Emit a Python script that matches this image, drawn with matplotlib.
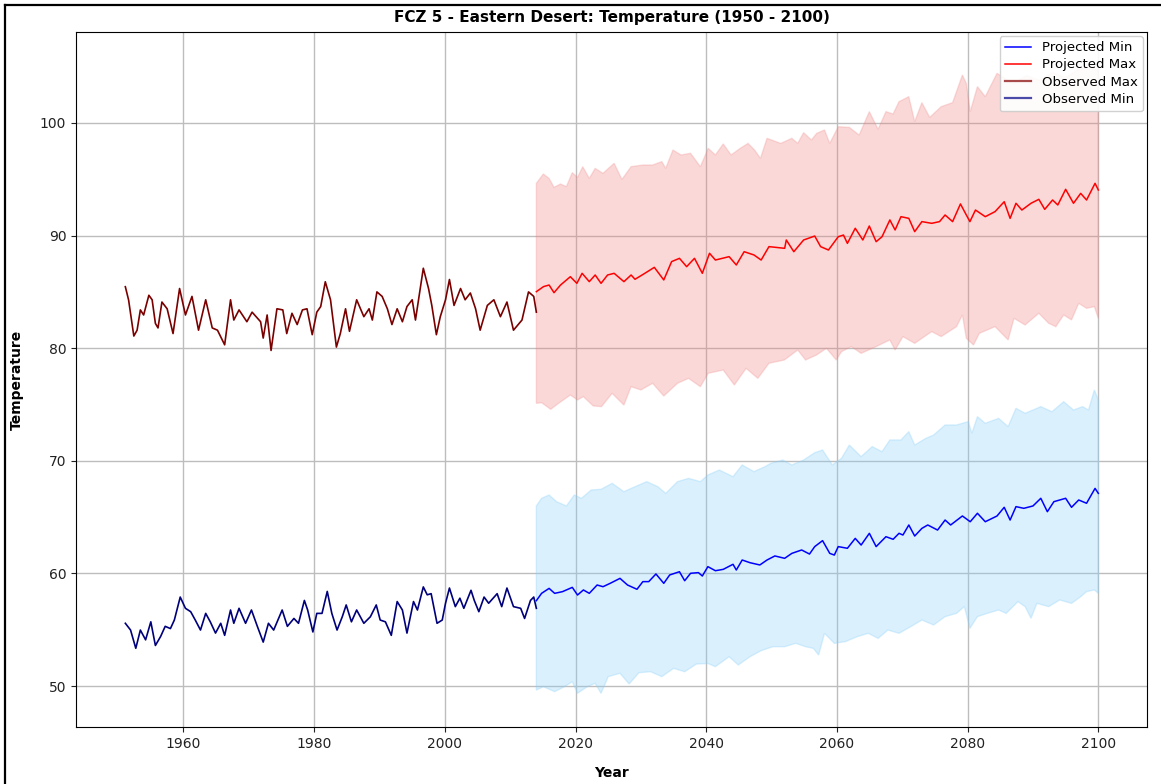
import numpy as np
import matplotlib
matplotlib.use("Agg")
import matplotlib.pyplot as plt
from matplotlib.lines import Line2D

# ---------------- data ----------------
obs_max_years = [1951.1, 1951.6, 1952.4, 1952.9, 1953.4, 1953.9, 1954.7, 1955.2, 1955.7, 1956.1,
                 1956.7, 1957.5, 1958.4, 1959.4, 1960.3, 1961.3, 1962.3, 1963.4, 1964.4, 1965.2,
                 1966.3, 1967.2, 1967.7, 1968.5, 1969.7, 1970.5, 1971.8, 1972.2, 1972.8, 1973.4,
                 1974.3, 1975.2, 1975.8, 1976.6, 1977.4, 1978.2, 1978.9, 1979.7, 1980.4, 1981.0,
                 1981.7, 1982.5, 1983.4, 1984.0, 1984.8, 1985.4, 1986.5, 1987.6, 1988.4, 1988.9,
                 1989.6, 1990.4, 1991.2, 1991.9, 1992.7, 1993.5, 1994.2, 1995.0, 1995.5, 1996.7,
                 1997.5, 1998.0, 1998.7, 1999.3, 2000.1, 2000.7, 2001.4, 2002.4, 2003.1, 2003.9,
                 2004.7, 2005.4, 2006.5, 2007.5, 2008.5, 2009.5, 2010.5, 2011.8, 2012.8, 2013.6,
                 2014.0]
obs_max_vals = [85.46, 84.28, 81.08, 81.6, 83.4, 82.95, 84.7, 84.3, 82.2, 81.8,
                84.1, 83.5, 81.3, 85.3, 82.95, 84.6, 81.6, 84.3, 81.8, 81.6,
                80.3, 84.3, 82.5, 83.4, 82.35, 83.2, 82.35, 80.9, 82.95, 79.8,
                83.5, 83.4, 81.3, 83.1, 82.1, 83.4, 83.5, 81.2, 83.2, 83.7,
                85.9, 84.3, 80.1, 81.3, 83.5, 81.5, 84.3, 82.8, 83.5, 82.5,
                85.0, 84.6, 83.5, 82.1, 83.5, 82.35, 83.7, 84.3, 82.5, 87.1,
                85.3, 83.8, 81.2, 82.8, 84.3, 86.1, 83.8, 85.3, 84.3, 84.9,
                83.5, 81.6, 83.8, 84.3, 82.8, 84.1, 81.6, 82.5, 85.0, 84.6,
                83.2]

obs_min_years = [1951.1, 1951.9, 1952.7, 1953.4, 1954.2, 1955.0, 1955.7, 1956.5, 1957.2, 1958.0,
                 1958.6, 1959.5, 1960.3, 1961.1, 1961.8, 1962.6, 1963.4, 1964.1, 1964.9, 1965.7,
                 1966.3, 1967.2, 1967.7, 1968.5, 1969.5, 1970.4, 1971.3, 1972.2, 1973.0, 1973.8,
                 1975.1, 1975.9, 1976.9, 1977.6, 1978.5, 1979.0, 1979.8, 1980.4, 1981.2, 1982.0,
                 1982.7, 1983.5, 1984.3, 1984.9, 1985.7, 1986.5, 1987.6, 1988.6, 1989.5, 1990.1,
                 1990.9, 1991.8, 1992.7, 1993.5, 1994.2, 1995.2, 1995.8, 1996.7, 1997.3, 1997.9,
                 1998.8, 1999.6, 2000.1, 2000.7, 2001.6, 2002.3, 2002.9, 2004.0, 2004.5, 2005.2,
                 2006.0, 2006.7, 2008.0, 2008.7, 2009.5, 2010.5, 2011.6, 2012.2, 2013.1, 2013.6,
                 2014.0]
obs_min_vals = [55.57, 54.97, 53.35, 54.97, 54.1, 55.7, 53.6, 54.4, 55.3, 55.1,
                55.86, 57.9, 56.9, 56.6, 55.86, 54.97, 56.45, 55.7, 54.7, 55.57,
                54.5, 56.75, 55.57, 56.9, 55.57, 56.75, 55.3, 53.9, 55.57, 54.97,
                56.75, 55.3, 56.0, 55.57, 57.6, 56.75, 54.8, 56.45, 56.45, 58.4,
                56.45, 54.97, 56.15, 57.2, 55.7, 56.75, 55.57, 56.15, 57.2, 55.86,
                55.7, 54.5, 57.5, 56.75, 54.7, 57.5, 56.75, 58.8, 58.1, 58.2,
                55.57, 55.86, 57.35, 58.7, 57.05, 57.8, 56.9, 58.5, 57.6, 56.6,
                57.9, 57.35, 58.2, 57.05, 58.7, 57.05, 56.9, 56.0, 57.6, 57.9,
                56.9]

proj_max_years = [2014.0, 2015.1, 2015.95, 2016.7, 2017.7, 2019.2, 2020.2, 2021.0, 2022.1, 2023.0,
                  2023.9, 2024.9, 2025.9, 2027.4, 2028.5, 2029.1, 2030.6, 2032.05, 2033.5, 2034.7,
                  2035.9, 2037.0, 2038.2, 2039.4, 2040.5, 2041.4, 2043.5, 2044.6, 2045.8, 2047.3,
                  2048.4, 2049.6, 2052.0, 2052.25, 2053.4, 2054.9, 2056.6, 2057.5, 2058.7, 2060.2,
                  2061.0, 2061.6, 2062.8, 2063.96, 2064.95, 2066.0, 2066.9, 2068.1, 2068.9, 2069.8,
                  2071.0, 2071.9, 2073.0, 2074.5, 2075.7, 2076.55, 2077.7, 2078.9, 2079.8, 2080.35,
                  2081.2, 2082.7, 2084.2, 2085.6, 2086.5, 2087.4, 2088.3, 2089.7, 2090.9, 2091.8,
                  2093.0, 2093.8, 2095.0, 2096.2, 2097.3, 2098.2, 2099.5, 2100.0]
proj_max_vals = [85.02, 85.47, 85.61, 84.93, 85.61, 86.35, 85.76, 86.65, 85.91, 86.50,
                 85.76, 86.50, 86.65, 85.91, 86.50, 86.12, 86.65, 87.18, 86.06, 87.69,
                 87.98, 87.24, 87.98, 86.65, 88.43, 87.83, 88.13, 87.39, 88.57, 88.28,
                 87.83, 89.02, 88.87, 89.61, 88.57, 89.61, 89.96, 89.02, 88.72, 89.90,
                 90.05, 89.31, 90.65, 89.61, 90.85, 89.46, 89.90, 91.39, 90.50, 91.68,
                 91.53, 90.35, 91.24, 91.09, 91.24, 91.83, 91.24, 92.81, 91.83, 91.24,
                 92.27, 91.68, 92.13, 93.01, 91.53, 92.87, 92.27, 92.87, 93.22, 92.33,
                 93.16, 92.72, 94.11, 92.87, 93.75, 93.16, 94.64, 94.05]

max_band_up_years = [2014.0, 2015.07, 2015.95, 2016.7, 2017.7, 2018.6, 2019.5, 2020.3, 2021.1, 2022.1,
                     2023.0, 2024.2, 2025.9, 2027.1, 2028.5, 2030.3, 2031.8, 2033.2, 2033.8, 2034.9,
                     2036.15, 2037.6, 2039.1, 2040.3, 2041.4, 2042.6, 2043.8, 2045.2, 2046.4, 2047.4,
                     2048.3, 2049.3, 2051.4, 2053.1, 2054.0, 2054.9, 2056.1, 2056.9, 2058.1, 2058.9,
                     2060.2, 2061.9, 2063.4, 2064.96, 2066.3, 2067.5, 2068.6, 2069.5, 2071.0, 2071.9,
                     2073.0, 2074.2, 2075.96, 2077.7, 2079.2, 2079.8, 2080.4, 2081.5, 2082.7, 2084.5,
                     2087.0, 2089.0, 2091.0, 2093.0, 2095.0, 2097.0, 2099.0, 2100.0]
max_band_up_vals = [94.64, 95.47, 95.08, 94.29, 94.58, 94.35, 95.59, 95.17, 96.12, 95.08,
                    95.97, 95.53, 96.42, 94.99, 96.12, 96.27, 96.27, 96.57, 95.97, 97.6,
                    97.16, 97.31, 96.12, 97.75, 97.16, 98.14, 97.16, 97.75, 98.19, 97.6,
                    96.86, 98.64, 98.19, 98.64, 98.19, 99.14, 98.49, 99.08, 99.38, 98.19,
                    99.67, 99.61, 98.93, 101.01, 99.44, 101.01, 100.8, 101.89, 102.34, 100.12,
                    101.81, 100.5, 101.45, 101.81, 104.26, 103.52, 101.01, 103.23, 102.34, 104.41,
                    103.5, 104.2, 103.8, 104.5, 104.0, 104.8, 105.0, 104.6]

max_band_lo_years = [2014.0, 2014.8, 2016.2, 2017.4, 2019.2, 2020.3, 2021.2, 2022.7, 2023.97, 2025.6,
                     2027.4, 2028.5, 2030.0, 2031.8, 2033.5, 2035.6, 2037.3, 2039.1, 2040.3, 2042.6,
                     2044.3, 2046.1, 2047.9, 2049.6, 2051.96, 2054.0, 2055.2, 2056.9, 2058.4, 2059.9,
                     2060.7, 2062.2, 2063.7, 2066.0, 2068.1, 2068.9, 2070.1, 2071.9, 2074.5, 2075.96,
                     2078.3, 2079.2, 2079.8, 2080.9, 2081.8, 2084.2, 2086.2, 2087.1, 2088.8, 2090.9,
                     2092.4, 2093.5, 2094.7, 2095.9, 2097.0, 2098.2, 2099.4, 2100.0]
max_band_lo_vals = [75.10, 75.16, 74.57, 75.10, 75.84, 75.4, 75.7, 74.87, 74.81, 75.99,
                    74.95, 76.58, 76.29, 76.88, 75.75, 76.88, 77.32, 76.58, 77.77, 78.06,
                    76.73, 78.21, 77.32, 78.66, 78.95, 79.84, 78.95, 79.4, 79.99, 78.95,
                    79.69, 80.14, 79.54, 80.14, 80.73, 79.84, 81.03, 80.43, 81.47, 81.03,
                    81.91, 82.95, 80.88, 80.28, 81.32, 81.91, 80.73, 82.65, 82.06, 83.1,
                    82.21, 81.91, 82.95, 82.51, 83.98, 83.54, 83.69, 82.65]

proj_min_years = [2014.0, 2014.8, 2015.95, 2016.8, 2018.0, 2019.5, 2020.3, 2021.2, 2022.1, 2023.3,
                  2024.2, 2025.3, 2026.8, 2027.95, 2029.4, 2030.3, 2031.2, 2032.3, 2033.5, 2034.4,
                  2035.9, 2036.7, 2037.6, 2038.8, 2039.4, 2040.25, 2041.4, 2042.6, 2044.1, 2044.6,
                  2045.5, 2046.7, 2048.2, 2049.3, 2050.5, 2052.0, 2053.1, 2054.6, 2055.8, 2056.6,
                  2057.8, 2058.9, 2059.6, 2060.2, 2061.6, 2062.8, 2063.7, 2064.96, 2066.0, 2067.5,
                  2068.6, 2069.5, 2070.1, 2071.0, 2071.9, 2073.0, 2073.9, 2075.4, 2076.55, 2077.4,
                  2079.2, 2080.4, 2081.5, 2082.7, 2084.5, 2085.6, 2086.5, 2087.4, 2088.6, 2090.0,
                  2091.2, 2092.2, 2093.2, 2095.0, 2095.9, 2097.0, 2098.2, 2099.5, 2100.0]
proj_min_vals = [57.58, 58.23, 58.67, 58.23, 58.38, 58.76, 58.08, 58.53, 58.23, 58.97,
                 58.82, 59.12, 59.56, 58.97, 58.59, 59.27, 59.27, 59.95, 59.12, 59.86,
                 60.15, 59.35, 60.01, 60.07, 59.77, 60.6, 60.24, 60.36, 60.81, 60.3,
                 61.19, 60.95, 60.75, 61.19, 61.55, 61.34, 61.78, 62.08, 61.72, 62.38,
                 62.91, 61.78, 61.63, 62.38, 62.23, 63.11, 62.52, 63.56, 62.38, 63.26,
                 63.03, 63.56, 63.41, 64.3, 63.32, 64.0, 64.3, 63.85, 64.74, 64.3,
                 65.1, 64.59, 65.34, 64.59, 65.1, 65.87, 64.74, 65.93, 65.78, 65.99,
                 66.67, 65.48, 66.37, 66.67, 65.87, 66.52, 66.23, 67.55, 67.11]

min_band_up_years = [2014.0, 2014.8, 2015.95, 2017.1, 2018.6, 2019.8, 2020.9, 2022.4, 2023.9, 2025.6,
                     2027.4, 2028.5, 2030.9, 2032.6, 2033.8, 2035.6, 2037.3, 2039.1, 2040.25, 2042.0,
                     2044.1, 2045.5, 2047.3, 2049.0, 2049.9, 2051.7, 2053.1, 2054.9, 2056.6, 2057.8,
                     2059.3, 2060.7, 2061.9, 2063.7, 2065.4, 2066.9, 2068.1, 2069.8, 2071.0, 2071.9,
                     2073.6, 2074.8, 2076.55, 2078.3, 2080.1, 2080.65, 2081.5, 2082.7, 2084.75, 2086.2,
                     2087.4, 2088.8, 2090.0, 2091.2, 2092.9, 2094.7, 2096.2, 2097.6, 2098.5, 2099.4,
                     2100.0]
min_band_up_vals = [65.99, 66.67, 66.96, 66.37, 65.99, 66.96, 66.67, 67.41, 67.47, 68.0,
                    67.26, 67.55, 68.15, 67.7, 67.11, 68.15, 68.44, 68.15, 68.74, 69.18,
                    68.59, 69.63, 69.04, 69.48, 69.78, 70.07, 69.63, 70.07, 70.72, 70.96,
                    69.63, 70.22, 71.4, 70.37, 71.26, 70.81, 71.85, 71.85, 72.59, 71.4,
                    71.99, 72.29, 73.18, 73.18, 73.48, 72.44, 73.92, 73.33, 73.77, 73.03,
                    74.66, 74.22, 74.51, 74.81, 74.36, 75.25, 74.51, 74.81, 74.51, 76.29,
                    75.4]

min_band_lo_years = [2014.0, 2015.07, 2016.8, 2018.3, 2019.5, 2020.3, 2021.8, 2023.0, 2023.9, 2025.0,
                     2026.8, 2028.2, 2029.7, 2031.5, 2033.2, 2035.0, 2036.7, 2038.5, 2040.25, 2041.4,
                     2043.5, 2044.9, 2046.7, 2048.4, 2050.2, 2052.0, 2053.7, 2055.2, 2056.4, 2057.2,
                     2058.1, 2059.6, 2061.3, 2063.1, 2064.8, 2066.3, 2067.8, 2069.5, 2071.3, 2073.0,
                     2074.8, 2076.55, 2078.3, 2079.5, 2080.35, 2081.5, 2083.0, 2084.75, 2085.9, 2087.7,
                     2088.8, 2089.7, 2090.6, 2092.4, 2094.1, 2095.9, 2097.3, 2098.2, 2099.4, 2100.0]
min_band_lo_vals = [49.64, 49.94, 49.5, 49.94, 50.38, 49.35, 49.94, 50.24, 49.35, 50.83,
                    51.13, 50.18, 51.18, 51.27, 50.83, 51.57, 51.27, 51.95, 52.0, 51.72,
                    52.6, 51.87, 52.6, 53.14, 53.49, 53.49, 53.79, 53.49, 53.34, 52.75,
                    54.68, 53.79, 53.94, 54.38, 54.68, 54.23, 54.97, 54.68, 55.27, 55.86,
                    55.42, 56.16, 56.45, 57.05, 55.12, 56.16, 56.45, 56.75, 56.45, 57.49,
                    57.05, 56.01, 57.34, 57.05, 57.64, 57.34, 57.93, 58.38, 58.53, 58.23]

x_ticks = [1960, 1980, 2000, 2020, 2040, 2060, 2080, 2100]
y_ticks = [50, 60, 70, 80, 90, 100]
title_text = "FCZ 5 - Eastern Desert: Temperature (1950 - 2100)"
legend_labels = ["Projected Min", "Projected Max", "Observed Max", "Observed Min"]

# ---------------- figure ----------------
W, H = 1161, 784
fig = plt.figure(figsize=(W / 100, H / 100), dpi=100)
ax = fig.add_axes([76 / W, 1 - 727 / H, (1147 - 76) / W, (727 - 32) / H])

def band(ax, ux, uy, lx, ly, face, edge):
    px = np.concatenate([np.asarray(ux), np.asarray(lx)[::-1]])
    py = np.concatenate([np.asarray(uy), np.asarray(ly)[::-1]])
    ax.fill(px, py, facecolor=face, edgecolor=edge, linewidth=1.0, zorder=1)

band(ax, max_band_up_years, max_band_up_vals, max_band_lo_years, max_band_lo_vals,
     (0.94, 0.50, 0.50, 0.30), (0.94, 0.50, 0.50, 0.25))
band(ax, min_band_up_years, min_band_up_vals, min_band_lo_years, min_band_lo_vals,
     (0.53, 0.81, 0.98, 0.30), (0.53, 0.81, 0.98, 0.30))

ax.plot(proj_min_years, proj_min_vals, color="blue", lw=1.1, zorder=3)
ax.plot(proj_max_years, proj_max_vals, color="red", lw=1.1, zorder=3)
ax.plot(obs_max_years, obs_max_vals, color="#7a0000", lw=1.2, zorder=3)
ax.plot(obs_min_years, obs_min_vals, color="#00007a", lw=1.2, zorder=3)

ax.set_xlim(1943.55, 2107.45)
ax.set_ylim(46.36, 108.08)
ax.set_xticks(x_ticks)
ax.set_yticks(y_ticks)
ax.tick_params(labelsize=10, colors="#222222")
ax.grid(True, color="#bdbdbd", linewidth=1.0, zorder=0)
ax.set_axisbelow(True)

ax.set_title(title_text, fontsize=11, fontweight="bold", pad=7)
ax.set_xlabel("Year", fontsize=10, fontweight="bold")
ax.set_ylabel("Temperature", fontsize=10, fontweight="bold")
ax.xaxis.set_label_coords(0.5, -0.056)
ax.yaxis.set_label_coords(-0.0486, 0.5)

leg_handles = [Line2D([], [], color="blue", lw=1.1),
               Line2D([], [], color="red", lw=1.1),
               Line2D([], [], color="#a84a4a", lw=1.6),
               Line2D([], [], color="#4a4aa8", lw=1.6)]
ax.legend(leg_handles, legend_labels, loc="upper right", fontsize=9.5,
          borderaxespad=0.3, handlelength=2.0, labelspacing=0.32, framealpha=0.9)

# outer frame (left and top edges of the screenshot)
fig.add_artist(Line2D([5 / W, 5 / W], [0, 1 - 4.5 / H], transform=fig.transFigure,
                      color="black", lw=1.6))
fig.add_artist(Line2D([5 / W, 1], [1 - 4.5 / H, 1 - 4.5 / H], transform=fig.transFigure,
                      color="black", lw=1.6))

fig.savefig("out.png", dpi=100)
